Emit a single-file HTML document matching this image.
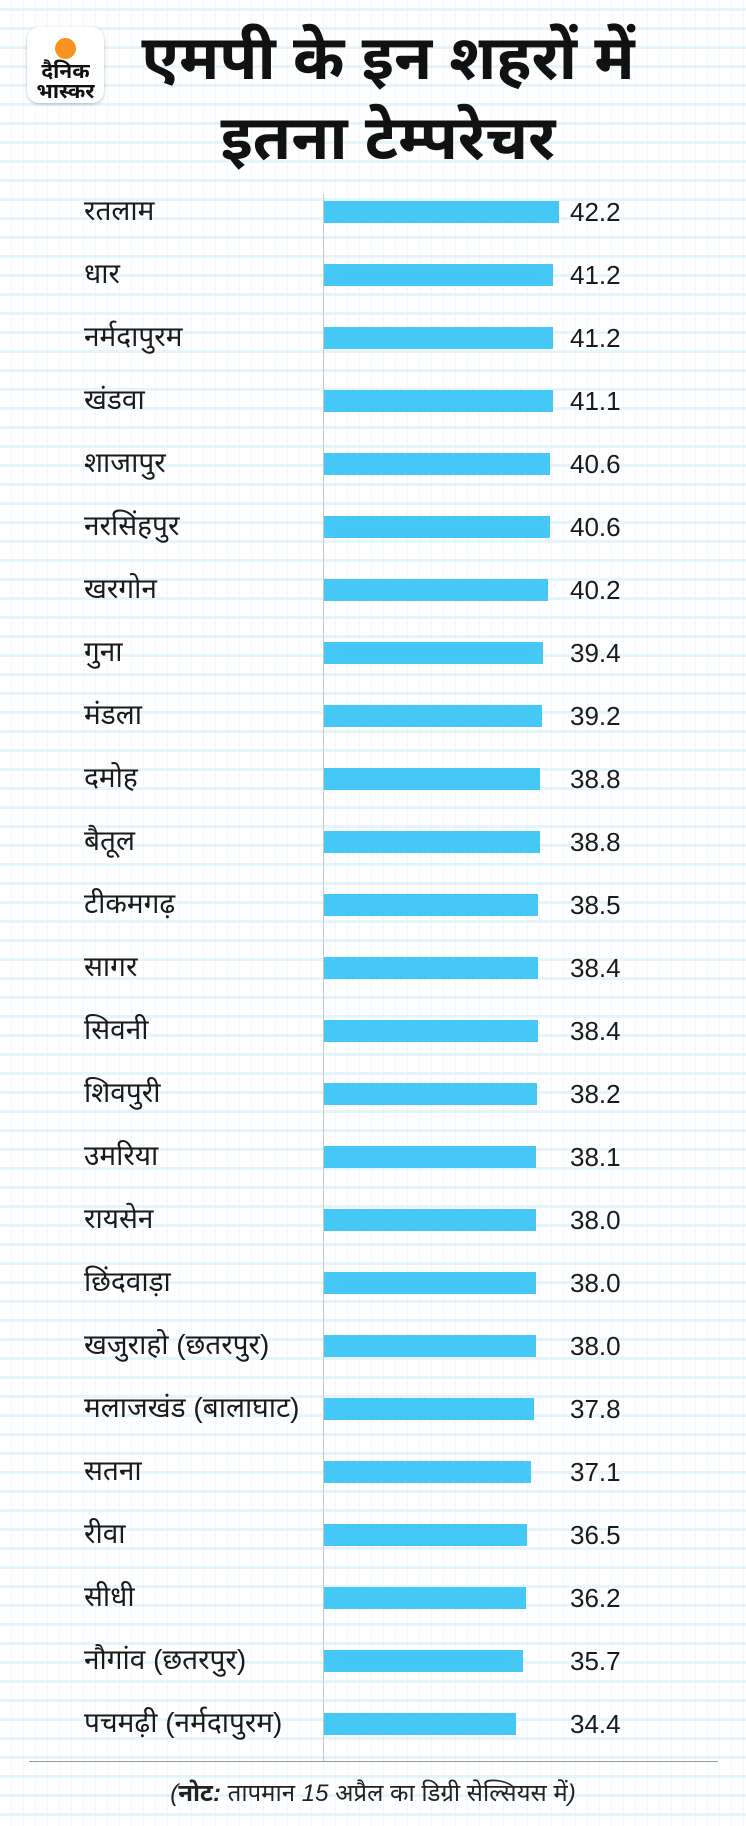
<!DOCTYPE html>
<html><head><meta charset="utf-8">
<style>
html,body{margin:0;padding:0}
body{width:746px;height:1826px;position:relative;overflow:hidden;font-family:"Liberation Sans","Noto Sans",sans-serif;
background-color:#fff;
background-image:
repeating-linear-gradient(to bottom, transparent 0 8px, #e6f4fb 8px 11px, transparent 11px 19px),
repeating-linear-gradient(to right, transparent 0 11px, #f1f8fc 11px 12px);
}
.logo{position:absolute;left:27px;top:27px;width:77px;height:76px;background:#fff;border-radius:12px;box-shadow:0 1px 3px rgba(0,0,0,.25)}
.dot{position:absolute;left:28px;top:11px;width:21px;height:21px;border-radius:50%;background:#f7931e}
.lt{position:absolute;left:0;width:77px;text-align:center;font-weight:bold;font-size:21px;color:#111;line-height:22px}
.title{position:absolute;left:90px;width:596px;text-align:center;font-weight:bold;font-size:62px;color:#111;line-height:70px}
.row{position:absolute;left:0;width:746px;height:40px}
.lab{position:absolute;left:84px;top:1px;font-size:28px;color:#1a1a1a;line-height:36px;white-space:nowrap}
.bar{position:absolute;left:324px;top:9px;height:22px;background:#45c8f5}
.val{position:absolute;left:570px;top:2px;font-size:26px;color:#1a1a1a;line-height:36px}
.axis{position:absolute;left:323px;top:194px;width:1px;height:1568px;background:#c9c9c9}
.base{position:absolute;left:29px;top:1761px;width:689px;height:1px;background:#9a9a9a}
.note{position:absolute;left:0;width:746px;top:1776px;text-align:center;font-size:24px;font-style:italic;color:#222}
</style></head><body>
<div class="logo"><div class="dot"></div><div class="lt" style="top:34px">दैनिक</div><div class="lt" style="top:54px">भास्कर</div></div>
<div class="title" style="top:24px">एमपी के इन शहरों में</div>
<div class="title" style="top:104px">इतना टेम्परेचर</div>
<div class="axis"></div>
<div class="row" style="top:192px"><span class="lab">रतलाम</span><div class="bar" style="width:235px"></div><span class="val">42.2</span></div>
<div class="row" style="top:255px"><span class="lab">धार</span><div class="bar" style="width:229px"></div><span class="val">41.2</span></div>
<div class="row" style="top:318px"><span class="lab">नर्मदापुरम</span><div class="bar" style="width:229px"></div><span class="val">41.2</span></div>
<div class="row" style="top:381px"><span class="lab">खंडवा</span><div class="bar" style="width:229px"></div><span class="val">41.1</span></div>
<div class="row" style="top:444px"><span class="lab">शाजापुर</span><div class="bar" style="width:226px"></div><span class="val">40.6</span></div>
<div class="row" style="top:507px"><span class="lab">नरसिंहपुर</span><div class="bar" style="width:226px"></div><span class="val">40.6</span></div>
<div class="row" style="top:570px"><span class="lab">खरगोन</span><div class="bar" style="width:224px"></div><span class="val">40.2</span></div>
<div class="row" style="top:633px"><span class="lab">गुना</span><div class="bar" style="width:219px"></div><span class="val">39.4</span></div>
<div class="row" style="top:696px"><span class="lab">मंडला</span><div class="bar" style="width:218px"></div><span class="val">39.2</span></div>
<div class="row" style="top:759px"><span class="lab">दमोह</span><div class="bar" style="width:216px"></div><span class="val">38.8</span></div>
<div class="row" style="top:822px"><span class="lab">बैतूल</span><div class="bar" style="width:216px"></div><span class="val">38.8</span></div>
<div class="row" style="top:885px"><span class="lab">टीकमगढ़</span><div class="bar" style="width:214px"></div><span class="val">38.5</span></div>
<div class="row" style="top:948px"><span class="lab">सागर</span><div class="bar" style="width:214px"></div><span class="val">38.4</span></div>
<div class="row" style="top:1011px"><span class="lab">सिवनी</span><div class="bar" style="width:214px"></div><span class="val">38.4</span></div>
<div class="row" style="top:1074px"><span class="lab">शिवपुरी</span><div class="bar" style="width:213px"></div><span class="val">38.2</span></div>
<div class="row" style="top:1137px"><span class="lab">उमरिया</span><div class="bar" style="width:212px"></div><span class="val">38.1</span></div>
<div class="row" style="top:1200px"><span class="lab">रायसेन</span><div class="bar" style="width:212px"></div><span class="val">38.0</span></div>
<div class="row" style="top:1263px"><span class="lab">छिंदवाड़ा</span><div class="bar" style="width:212px"></div><span class="val">38.0</span></div>
<div class="row" style="top:1326px"><span class="lab">खजुराहो (छतरपुर)</span><div class="bar" style="width:212px"></div><span class="val">38.0</span></div>
<div class="row" style="top:1389px"><span class="lab">मलाजखंड (बालाघाट)</span><div class="bar" style="width:210px"></div><span class="val">37.8</span></div>
<div class="row" style="top:1452px"><span class="lab">सतना</span><div class="bar" style="width:207px"></div><span class="val">37.1</span></div>
<div class="row" style="top:1515px"><span class="lab">रीवा</span><div class="bar" style="width:203px"></div><span class="val">36.5</span></div>
<div class="row" style="top:1578px"><span class="lab">सीधी</span><div class="bar" style="width:202px"></div><span class="val">36.2</span></div>
<div class="row" style="top:1641px"><span class="lab">नौगांव (छतरपुर)</span><div class="bar" style="width:199px"></div><span class="val">35.7</span></div>
<div class="row" style="top:1704px"><span class="lab">पचमढ़ी (नर्मदापुरम)</span><div class="bar" style="width:192px"></div><span class="val">34.4</span></div>
<div class="base"></div>
<div class="note">(<b>नोट:</b> तापमान 15 अप्रैल का डिग्री सेल्सियस में)</div>
</body></html>
